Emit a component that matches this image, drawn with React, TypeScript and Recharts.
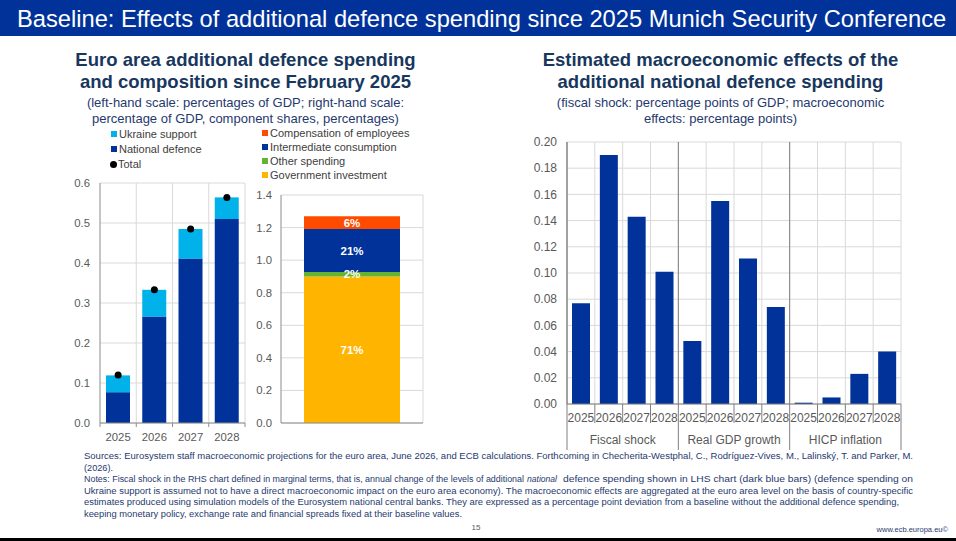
import React from 'react';
import { ComposedChart, BarChart, Bar, Line, XAxis, YAxis, CartesianGrid, LabelList } from 'recharts';

// ---------- Data ----------
const years = ['2025', '2026', '2027', '2028'];
const nationalDefence = [0.077, 0.266, 0.411, 0.51];
const ukraineSupport = [0.042, 0.067, 0.074, 0.054];
const totalSpending = [0.12, 0.333, 0.485, 0.564];

const compositionCategory = ['National defence 2025-2028'];
const governmentInvestment = [0.9];
const otherSpending = [0.027];
const intermediateConsumption = [0.264];
const compensationEmployees = [0.079];
const governmentInvestmentShare = ['71%'];
const otherSpendingShare = ['2%'];
const intermediateConsumptionShare = ['21%'];
const compensationEmployeesShare = ['6%'];

const effectGroups = ['Fiscal shock', 'Real GDP growth', 'HICP inflation'];
const effectYears = ['2025', '2026', '2027', '2028'];
const fiscalShock = [0.077, 0.19, 0.143, 0.101];
const realGdpGrowth = [0.048, 0.155, 0.111, 0.074];
const hicpInflation = [0.001, 0.005, 0.023, 0.04];

const leftTicks = [0, 0.1, 0.2, 0.3, 0.4, 0.5, 0.6];
const midTicks = [0, 0.2, 0.4, 0.6, 0.8, 1.0, 1.2, 1.4];
const rightTicks = [0, 0.02, 0.04, 0.06, 0.08, 0.1, 0.12, 0.14, 0.16, 0.18, 0.2];

// ---------- Derived tables ----------
const spendingData = years.map((y, i) => ({
  year: y,
  national: nationalDefence[i],
  ukraine: ukraineSupport[i],
  total: totalSpending[i],
}));

const compositionData = compositionCategory.map((c, i) => ({
  cat: c,
  gi: governmentInvestment[i],
  other: otherSpending[i],
  ic: intermediateConsumption[i],
  comp: compensationEmployees[i],
  giL: governmentInvestmentShare[i],
  otherL: otherSpendingShare[i],
  icL: intermediateConsumptionShare[i],
  compL: compensationEmployeesShare[i],
}));

const effectSeries = [fiscalShock, realGdpGrowth, hicpInflation];
const effectData = effectGroups.flatMap((g, gi) =>
  effectYears.map((y, yi) => ({ key: g + ' ' + y, year: y, group: g, value: effectSeries[gi][yi] }))
);
const effectKeys = effectData.map((d) => d.key);

// ---------- Style constants ----------
const FONT = '"Liberation Sans", Arial, sans-serif';
const ECB_BLUE = '#003299';
const LIGHT_BLUE = '#00b1ea';
const ORANGE = '#ff4b00';
const GREEN = '#65b32e';
const YELLOW = '#ffb400';
const GRID = '#d9d9d9';
const AXIS = '#8c8c8c';
const SEP = '#7f7f7f';
const TICK = '#595959';
const TITLE = '#17375e';
const SUB = '#1f3a6e';

// chart 1 geometry
const C1 = { left: 60, top: 170, width: 195, height: 283, yw: 40, mt: 13, mr: 10, xh: 30 };
const C1_PLOT_W = C1.width - C1.yw - C1.mr;
const C1_BAND = C1_PLOT_W / years.length;
const C1_AXIS_Y = C1.height - C1.xh;

// chart 2 geometry
const C2 = { left: 255, top: 185, width: 175, height: 268, yw: 26, mt: 10, mr: 7, xh: 30 };
const C2_RIGHT = C2.width - C2.mr;

// chart 3 geometry
const C3 = { left: 520, top: 130, width: 395, height: 324, yw: 47, mt: 12, mr: 14, xh: 50 };
const C3_PLOT_W = C3.width - C3.yw - C3.mr;
const C3_BAND = C3_PLOT_W / effectData.length;
const C3_AXIS_Y = C3.height - C3.xh;

const YearTick = (props: any) => {
  const { x, payload, index } = props;
  const idx = typeof index === 'number' ? index : years.indexOf(payload.value);
  const half = C1_BAND / 2;
  return (
    <g>
      <line x1={x - half} x2={x - half} y1={C1_AXIS_Y} y2={C1_AXIS_Y + 4} stroke={AXIS} />
      {idx === years.length - 1 && (
        <line x1={x + half} x2={x + half} y1={C1_AXIS_Y} y2={C1_AXIS_Y + 4} stroke={AXIS} />
      )}
      <text x={x} y={C1_AXIS_Y + 18} textAnchor="middle" fontSize={11.3} fill={TICK}>
        {payload.value}
      </text>
    </g>
  );
};

const EffectTick = (props: any) => {
  const { x, payload } = props;
  const idx = effectKeys.indexOf(payload.value);
  const d = effectData[idx];
  const yi = idx % 4;
  const half = C3_BAND / 2;
  return (
    <g>
      {yi === 0 ? (
        <line x1={x - half} x2={x - half} y1={C3.mt} y2={C3_AXIS_Y + 46} stroke={SEP} />
      ) : (
        <line x1={x - half} x2={x - half} y1={C3_AXIS_Y} y2={C3_AXIS_Y + 19} stroke={SEP} />
      )}
      {idx === effectData.length - 1 && (
        <line x1={x + half} x2={x + half} y1={C3_AXIS_Y} y2={C3_AXIS_Y + 46} stroke={SEP} />
      )}
      <text x={x} y={C3_AXIS_Y + 18} textAnchor="middle" fontSize={12} fill={TICK}>
        {d ? d.year : ''}
      </text>
      {yi === 1 && d && (
        <text x={x + half} y={C3_AXIS_Y + 40} textAnchor="middle" fontSize={12} fill={TICK}>
          {d.group}
        </text>
      )}
    </g>
  );
};

const LegendSquare = ({ x, y, color, label }: any) => (
  <div style={{ position: 'absolute', left: x, top: y - 8, height: 16, display: 'flex', alignItems: 'center', whiteSpace: 'nowrap' }}>
    <div style={{ width: 6, height: 6, background: color, marginRight: 2 }} />
    <span style={{ fontSize: 11, color: '#404040', lineHeight: '16px' }}>{label}</span>
  </div>
);

const LegendDot = ({ x, y, label }: any) => (
  <div style={{ position: 'absolute', left: x, top: y - 8, height: 16, display: 'flex', alignItems: 'center', whiteSpace: 'nowrap' }}>
    <div style={{ width: 7, height: 7, borderRadius: '50%', background: '#000', marginRight: 1 }} />
    <span style={{ fontSize: 11, color: '#404040', lineHeight: '16px' }}>{label}</span>
  </div>
);

const Title = ({ cx, y, lines, size, weight, color }: any) => (
  <div
    style={{
      position: 'absolute',
      left: cx - 250,
      width: 500,
      top: y,
      textAlign: 'center',
      fontSize: size,
      fontWeight: weight,
      color,
      lineHeight: size === 18.5 ? '21.5px' : '15.5px',
      whiteSpace: 'nowrap',
    }}
  >
    {lines.map((l: string, i: number) => (
      <div key={i}>{l}</div>
    ))}
  </div>
);

export default function App() {
  return (
    <div
      style={{
        position: 'absolute',
        left: 0,
        top: 0,
        width: 956,
        height: 541,
        background: '#fff',
        fontFamily: FONT,
        overflow: 'hidden',
      }}
    >
      {/* Header */}
      <div
        style={{
          position: 'absolute',
          left: 0,
          top: 0,
          width: 956,
          height: 36,
          background: ECB_BLUE,
          color: '#fff',
          fontSize: 23.7,
          lineHeight: '38px',
          paddingLeft: 17,
          whiteSpace: 'nowrap',
          boxSizing: 'border-box',
        }}
      >
        Baseline: Effects of additional defence spending since 2025 Munich Security Conference
      </div>

      {/* Left titles */}
      <Title cx={245.5} y={49} size={18.5} weight="bold" color={TITLE}
        lines={['Euro area additional defence spending', 'and composition since February 2025']} />
      <Title cx={245.5} y={95} size={13} weight="normal" color={SUB}
        lines={['(left-hand scale: percentages of GDP; right-hand scale:', 'percentage of GDP, component shares, percentages)']} />

      {/* Right titles */}
      <Title cx={720.5} y={49} size={18.5} weight="bold" color={TITLE}
        lines={['Estimated macroeconomic effects of the', 'additional national defence spending']} />
      <Title cx={720.5} y={95} size={13} weight="normal" color={SUB}
        lines={['(fiscal shock: percentage points of GDP; macroeconomic', 'effects: percentage points)']} />

      {/* Legends */}
      <LegendSquare x={111} y={134} color={LIGHT_BLUE} label="Ukraine support" />
      <LegendSquare x={111} y={149} color={ECB_BLUE} label="National defence" />
      <LegendDot x={110} y={164} label="Total" />
      <LegendSquare x={262} y={133} color={ORANGE} label="Compensation of employees" />
      <LegendSquare x={262} y={147} color={ECB_BLUE} label="Intermediate consumption" />
      <LegendSquare x={262} y={161} color={GREEN} label="Other spending" />
      <LegendSquare x={262} y={175} color={YELLOW} label="Government investment" />

      {/* Chart 1 */}
      <div style={{ position: 'absolute', left: C1.left, top: C1.top }}>
        <ComposedChart
          width={C1.width}
          height={C1.height}
          data={spendingData}
          margin={{ top: C1.mt, right: C1.mr, bottom: 0, left: 0 }}
        >
          <CartesianGrid
            stroke={GRID}
            verticalCoordinatesGenerator={() => years.map((_, i) => C1.yw + (i + 1) * C1_BAND)}
          />
          <XAxis dataKey="year" height={C1.xh} tickLine={false} axisLine={{ stroke: AXIS }} interval={0} tick={<YearTick />} />
          <YAxis
            width={C1.yw}
            domain={[0, 0.6]}
            ticks={leftTicks}
            tickFormatter={(v: number) => v.toFixed(1)}
            tickLine={false}
            tickMargin={4}
            axisLine={{ stroke: AXIS }}
            tick={{ fontSize: 11.3, fill: TICK }}
            interval={0}
          />
          <Bar dataKey="national" stackId="s" fill={ECB_BLUE} barSize={24} isAnimationActive={false} />
          <Bar dataKey="ukraine" stackId="s" fill={LIGHT_BLUE} barSize={24} isAnimationActive={false} />
          <Line
            dataKey="total"
            stroke="none"
            dot={{ r: 3.5, fill: '#000', stroke: '#000', strokeWidth: 0 }}
            activeDot={false}
            isAnimationActive={false}
          />
        </ComposedChart>
      </div>

      {/* Chart 2 */}
      <div style={{ position: 'absolute', left: C2.left, top: C2.top }}>
        <BarChart
          width={C2.width}
          height={C2.height}
          data={compositionData}
          margin={{ top: C2.mt, right: C2.mr, bottom: 0, left: 0 }}
        >
          <CartesianGrid stroke={GRID} verticalCoordinatesGenerator={() => [C2_RIGHT]} />
          <XAxis dataKey="cat" height={C2.xh} tickLine={false} axisLine={{ stroke: AXIS }} tick={{ fontSize: 11.3, fill: TICK }} tickMargin={6} />
          <YAxis
            width={C2.yw}
            domain={[0, 1.4]}
            ticks={midTicks}
            tickFormatter={(v: number) => v.toFixed(1)}
            tickLine={false}
            tickMargin={3}
            axisLine={{ stroke: AXIS }}
            tick={{ fontSize: 11.3, fill: TICK }}
            interval={0}
          />
          <Bar dataKey="gi" stackId="c" fill={YELLOW} barSize={96} isAnimationActive={false}>
            <LabelList dataKey="giL" position="center" fill="#fff" fontWeight="bold" fontSize={11.5} />
          </Bar>
          <Bar dataKey="other" stackId="c" fill={GREEN} barSize={96} isAnimationActive={false}>
            <LabelList dataKey="otherL" position="center" fill="#fff" fontWeight="bold" fontSize={11.5} />
          </Bar>
          <Bar dataKey="ic" stackId="c" fill={ECB_BLUE} barSize={96} isAnimationActive={false}>
            <LabelList dataKey="icL" position="center" fill="#fff" fontWeight="bold" fontSize={11.5} />
          </Bar>
          <Bar dataKey="comp" stackId="c" fill={ORANGE} barSize={96} isAnimationActive={false}>
            <LabelList dataKey="compL" position="center" fill="#fff" fontWeight="bold" fontSize={11.5} />
          </Bar>
        </BarChart>
      </div>

      {/* Chart 3 */}
      <div style={{ position: 'absolute', left: C3.left, top: C3.top }}>
        <BarChart
          width={C3.width}
          height={C3.height}
          data={effectData}
          margin={{ top: C3.mt, right: C3.mr, bottom: 0, left: 0 }}
        >
          <CartesianGrid
            stroke={GRID}
            verticalCoordinatesGenerator={() => effectData.map((_, i) => C3.yw + (i + 1) * C3_BAND)}
          />
          <XAxis dataKey="key" height={C3.xh} tickLine={false} axisLine={{ stroke: SEP }} interval={0} tick={<EffectTick />} />
          <YAxis
            width={C3.yw}
            domain={[0, 0.2]}
            ticks={rightTicks}
            tickFormatter={(v: number) => v.toFixed(2)}
            tickLine={false}
            tickMargin={4}
            axisLine={{ stroke: AXIS }}
            tick={{ fontSize: 12, fill: TICK }}
            interval={0}
          />
          <Bar dataKey="value" fill={ECB_BLUE} barSize={18} isAnimationActive={false} />
        </BarChart>
      </div>

      {/* Footnotes */}
      <svg width={956} height={100} style={{ position: 'absolute', left: 0, top: 441 }}>
        <g fill={SUB} fontSize={8.9}>
          <text x={84} y={18} textLength={829} lengthAdjust="spacingAndGlyphs">
            Sources: Eurosystem staff macroeconomic projections for the euro area, June 2026, and ECB calculations. Forthcoming in Checherita-Westphal, C., Rodríguez-Vives, M., Lalinský, T. and Parker, M.
          </text>
          <text x={84} y={29.5} textLength={29} lengthAdjust="spacingAndGlyphs">(2026).</text>
          <text x={84} y={41} textLength={440} lengthAdjust="spacingAndGlyphs">
            Notes: Fiscal shock in the RHS chart defined in marginal terms, that is, annual change of the levels of additional
          </text>
          <text x={527} y={41} textLength={30} lengthAdjust="spacingAndGlyphs" fontStyle="italic">national</text>
          <text x={563} y={41} textLength={350} lengthAdjust="spacingAndGlyphs">
            defence spending shown in LHS chart (dark blue bars) (defence spending on
          </text>
          <text x={84} y={52.5} textLength={829} lengthAdjust="spacingAndGlyphs">
            Ukraine support is assumed not to have a direct macroeconomic impact on the euro area economy). The macroeconomic effects are aggregated at the euro area level on the basis of country-specific
          </text>
          <text x={84} y={64} textLength={815} lengthAdjust="spacingAndGlyphs">
            estimates produced using simulation models of the Eurosystem national central banks. They are expressed as a percentage point deviation from a baseline without the additional defence spending,
          </text>
          <text x={84} y={75.5} textLength={378} lengthAdjust="spacingAndGlyphs">
            keeping monetary policy, exchange rate and financial spreads fixed at their baseline values.
          </text>
        </g>
        <text x={476} y={89} textAnchor="middle" fontSize={8} fill={TICK}>15</text>
        <text x={948} y={91} textAnchor="end" fontSize={7.5} fill={SUB}>www.ecb.europa.eu©</text>
        <rect x={0} y={97} width={956} height={3} fill="#000" />
      </svg>
    </div>
  );
}
